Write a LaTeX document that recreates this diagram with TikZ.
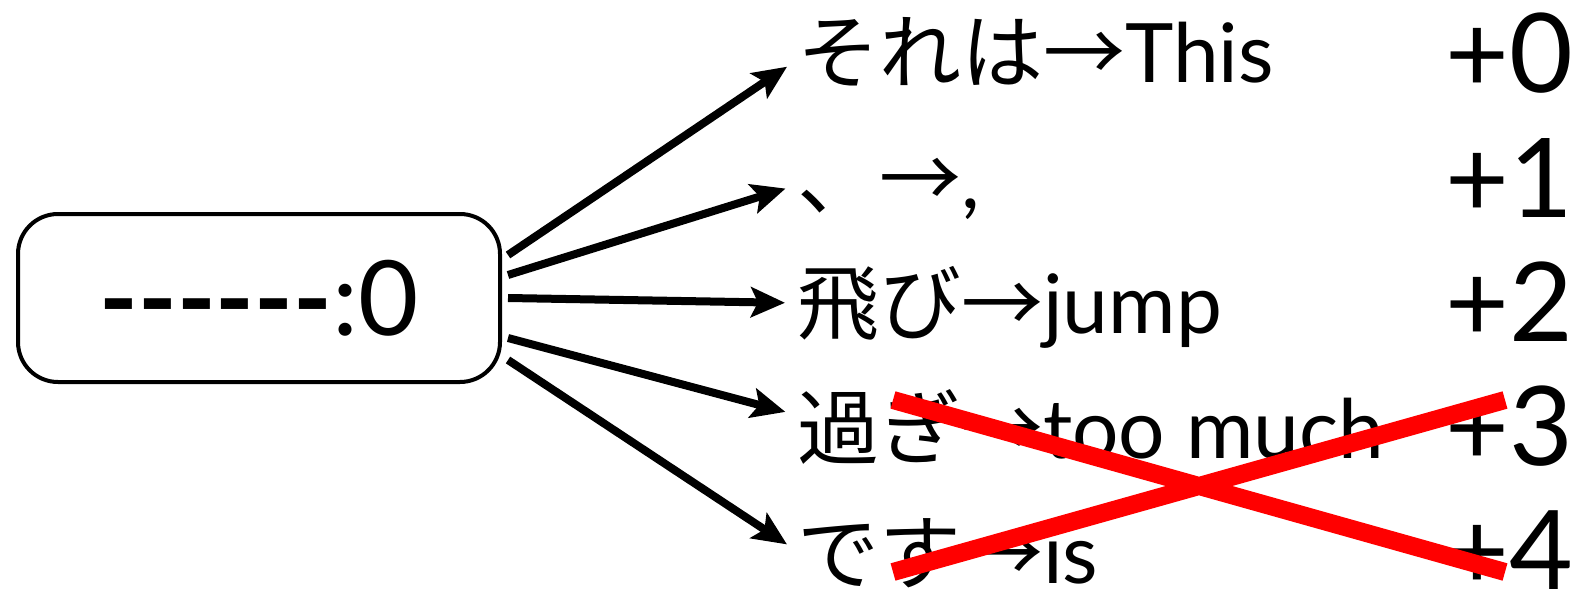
\documentclass[tikz,border=0pt]{standalone}
\usepackage{fontspec}
\setmainfont{Lato}[Ligatures=TeXOff]
\newfontfamily\jp{Noto Sans CJK JP}
\usetikzlibrary{arrows.meta}
\tikzset{
  big/.style={font=\fontsize{110}{110}\selectfont},
  word/.style={anchor=base west,inner sep=0pt,text height=62pt,text depth=2pt,font=\fontsize{82}{82}\selectfont},
  link/.style={line width=8pt,-{Stealth[length=34pt,width=30pt,inset=7pt]},shorten >=12pt},
}
\begin{document}
\begin{tikzpicture}[x=1pt,y=-1pt]
\useasboundingbox (0,0) rectangle (1575,591);
\clip (0,0) rectangle (1575,591);
\node[draw,line width=4pt,rounded corners=40pt,minimum width=482pt,minimum height=168pt,font=\fontsize{104}{104}\selectfont] (src) at (259,298) {\textbf{------}:0};

\node[word] (t0) at (797,83) {{\jp それは→}This};
\node[word] (t1) at (797,208) {{\jp 、→},};
\node[word] (t2) at (797,333) {{\jp 飛び→}jump};
\node[word] (t3) at (797,458) {{\jp 過ぎ→}too much};
\node[word] (t4) at (797,583) {{\jp です→}is};

\foreach \i in {0,...,4}
    \node[anchor=base west,inner sep=0pt,big] (n\i) at (1445,93+124*\i) {+\i};

\foreach \i/\s/\e in {0/43/-7,1/23/-7,2/0/0,3/-40/13,4/-62/2}
    \draw[link] ([xshift=6pt,yshift=\s pt]src.east) -- ([yshift=\e pt]t\i.west);

% crossed out
\draw[red,line width=18pt] (893,400) -- (1505,572) (893,572) -- (1505,400);
\end{tikzpicture}
\end{document}
